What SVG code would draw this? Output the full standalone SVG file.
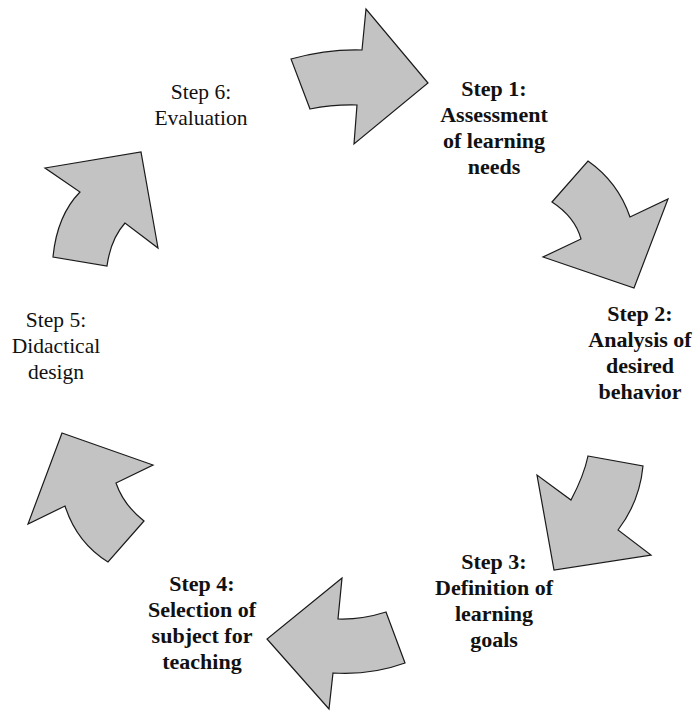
<svg xmlns="http://www.w3.org/2000/svg" width="693" height="711" viewBox="0 0 693 711">
<style>
.arrow{fill:#c3c3c3;stroke:#1a1a1a;stroke-width:1.2;stroke-linejoin:miter}
.t{font-family:'Liberation Serif','Times New Roman',serif;font-size:21.5px;fill:#111;text-anchor:middle}
.b{font-weight:bold;font-size:22px}
</style>
<rect width="693" height="711" fill="#fff"/>
<g id="connectors">
<path id="arrow1" class="arrow" d="M291,59 Q327,49 362,50 L366,9 L428,83 L354,144 L357,105 Q332.5,104.4 310,109 Z"/>
<path id="arrow2" class="arrow" d="M588,161 Q618,182 630,217 L668,199 L634,288 L543,257 L581,239 Q575,217 552,202 Z"/>
<path id="arrow3" class="arrow" d="M588,456 L643,466 Q639.5,502 618,530 L651,555 L554,570 L537,475 L571,500 Q584,475.4 588,456 Z"/>
<path id="arrow4" class="arrow" d="M342,578 L267,639 L329,709 L333,673 Q371,675.4 405,663 L386,612 Q361.3,619.8 338,619 Z"/>
<path id="arrow5" class="arrow" d="M62,433 L153,465 L116,483 Q123.3,504.7 144,521 L108,562 Q76.8,542.7 65,506 L28,524 Z"/>
<path id="arrow6" class="arrow" d="M45,168 L141,152 L158,248 L125,223 Q110.7,239 107,266 L53,257 Q57,215.5 80,192 Z"/>
</g>
<g id="step1">
<text class="t b" x="494" y="96">Step 1:</text>
<text class="t b" x="494" y="122">Assessment</text>
<text class="t b" x="494" y="148">of learning</text>
<text class="t b" x="494" y="174">needs</text>
</g>
<g id="step2">
<text class="t b" x="640" y="321">Step 2:</text>
<text class="t b" x="640" y="347">Analysis of</text>
<text class="t b" x="640" y="373">desired</text>
<text class="t b" x="640" y="399">behavior</text>
</g>
<g id="step3">
<text class="t b" x="494" y="569">Step 3:</text>
<text class="t b" x="494" y="595">Definition of</text>
<text class="t b" x="494" y="621">learning</text>
<text class="t b" x="494" y="647">goals</text>
</g>
<g id="step4">
<text class="t b" x="202" y="591">Step 4:</text>
<text class="t b" x="202" y="617">Selection of</text>
<text class="t b" x="202" y="643">subject for</text>
<text class="t b" x="202" y="669">teaching</text>
</g>
<g id="step5">
<text class="t" x="56" y="327">Step 5:</text>
<text class="t" x="56" y="353">Didactical</text>
<text class="t" x="56" y="379">design</text>
</g>
<g id="step6">
<text class="t" x="201" y="99">Step 6:</text>
<text class="t" x="201" y="125">Evaluation</text>
</g>
</svg>
